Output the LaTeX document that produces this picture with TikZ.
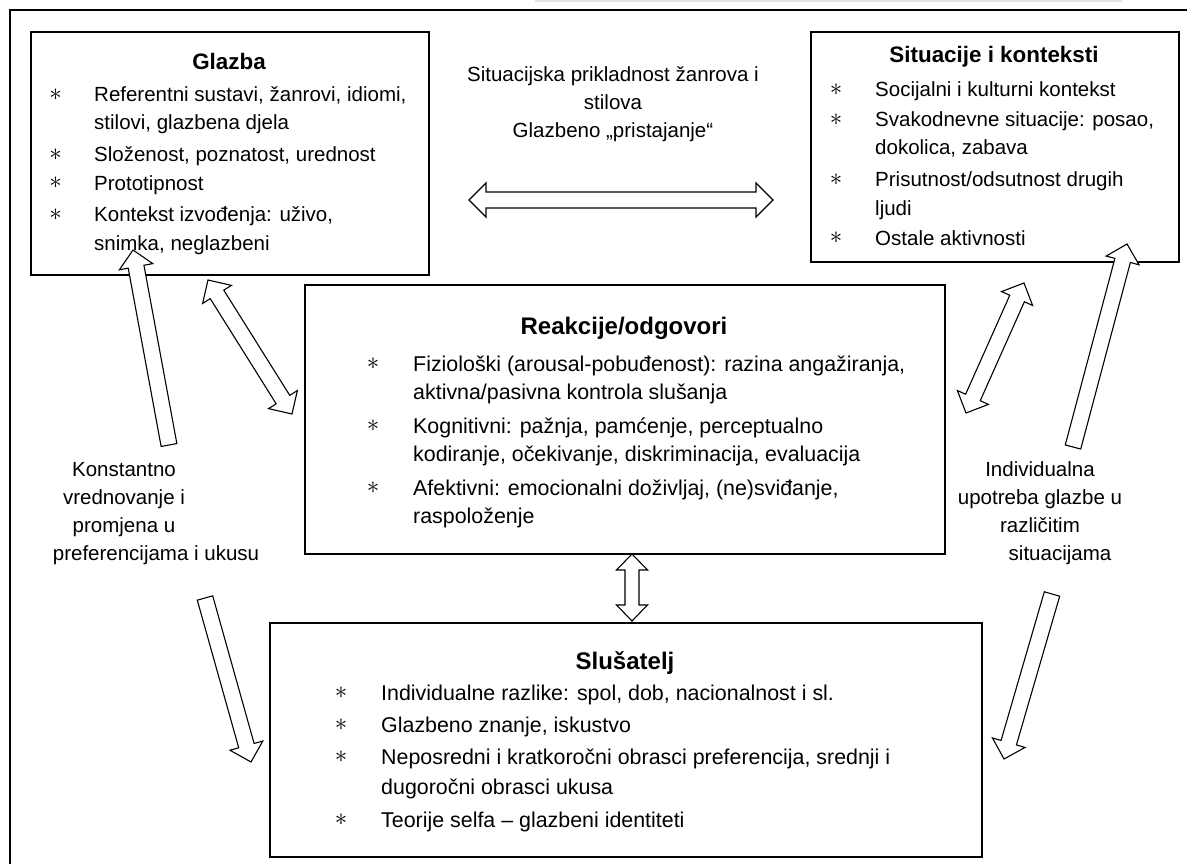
\documentclass[tikz,border=0pt]{standalone}
\usepackage{fontspec}
\setmainfont{Liberation Sans}
\usetikzlibrary{calc}
\tikzset{
  box/.style={draw, line width=2pt, anchor=north west, inner sep=0pt},
  txt/.style={anchor=base west, inner sep=0pt, font=\fontsize{20.5}{28}\selectfont},
  btxt/.style={anchor=base west, inner sep=0pt, font=\fontsize{21.4}{28}\selectfont},
  ctxt/.style={anchor=base, inner sep=0pt, font=\fontsize{20.5}{28}\selectfont},
  ttl/.style={anchor=base, inner sep=0pt, font=\bfseries\fontsize{22.4}{28}\selectfont},
  bigttl/.style={anchor=base, inner sep=0pt, font=\bfseries\fontsize{24}{30}\selectfont},
  ast/.style={anchor=center, inner sep=0pt, font=\fontsize{25}{28}\selectfont},
  arr/.style={draw, fill=white, line width=1.1pt, line join=miter},
  frame/.style={line width=2.2pt},
}
% double block arrow between #1 and #2, half shaft #3, half head #4, head length #5
\newcommand\dblarrow[5]{%
  \path ($(#1)!#5!(#2)$) coordinate (hA) ($(#2)!#5!(#1)$) coordinate (hB);
  \draw[arr] ($(hA)!#3!90:(hB)$) -- ($(hB)!#3!-90:(hA)$) -- ($(hB)!#4!-90:(hA)$) -- (#2)
    -- ($(hB)!#4!90:(hA)$) -- ($(hB)!#3!90:(hA)$) -- ($(hA)!#3!-90:(hB)$)
    -- ($(hA)!#4!-90:(hB)$) -- (#1) -- ($(hA)!#4!90:(hB)$) -- cycle;
}
% single block arrow from #1 (tail) to #2 (tip)
\newcommand\sglarrow[5]{%
  \path ($(#2)!#5!(#1)$) coordinate (hB);
  \draw[arr] ($(#1)!#3!90:(#2)$) -- ($(hB)!#3!-90:(#1)$) -- ($(hB)!#4!-90:(#1)$) -- (#2)
    -- ($(hB)!#4!90:(#1)$) -- ($(hB)!#3!90:(#1)$) -- ($(#1)!#3!-90:(#2)$) -- cycle;
}
\begin{document}
\begin{tikzpicture}[x=1pt, y=-1pt]
\useasboundingbox (0,0) rectangle (1187,864);
\fill[white] (0,0) rectangle (1187,864);
% top grey strip (edge of preceding element)
\fill[gray!22] (535,0) rectangle (1122,2.5);
% outer frame (top and left only)
\draw[frame] (1187,10) -- (10,10) -- (10,864);

% ---------- Glazba ----------
\node[box, minimum width=398pt, minimum height=243pt] (glazba) at (30,31) {};
\node[ttl] (glazbaT) at (229,70) {Glazba};
\node[ast] (gA1) at (55.5,95) {$\ast$};
\node[txt] (gL1) at (94,102) {Referentni sustavi, žanrovi, idiomi,};
\node[txt] (gL2) at (94,130) {stilovi, glazbena djela};
\node[ast] (gA2) at (55.5,155) {$\ast$};
\node[txt] (gL3) at (94,162) {Složenost, poznatost, urednost};
\node[ast] (gA3) at (55.5,183) {$\ast$};
\node[txt] (gL4) at (94,190) {Prototipnost};
\node[ast] (gA4) at (55.5,215) {$\ast$};
\node[txt] (gL5) at (94,222) {Kontekst izvođenja: uživo,};
\node[txt] (gL6) at (94,250) {snimka, neglazbeni};

% ---------- Situacije i konteksti ----------
\node[box, minimum width=368pt, minimum height=230pt] (sit) at (810,31) {};
\node[ttl] (sitT) at (994,63) {Situacije i konteksti};
\node[ast] (sA1) at (836,90) {$\ast$};
\node[txt] (sL1) at (875,97) {Socijalni i kulturni kontekst};
\node[ast] (sA2) at (836,120) {$\ast$};
\node[txt] (sL2) at (875,127) {Svakodnevne situacije: posao,};
\node[txt] (sL3) at (875,155) {dokolica, zabava};
\node[ast] (sA3) at (836,180) {$\ast$};
\node[txt] (sL4) at (875,187) {Prisutnost/odsutnost drugih};
\node[txt] (sL5) at (875,215) {ljudi};
\node[ast] (sA4) at (836,238) {$\ast$};
\node[txt] (sL6) at (875,245) {Ostale aktivnosti};

% ---------- top middle label ----------
\node[ctxt] (mT1) at (613,82) {Situacijska prikladnost žanrova i};
\node[ctxt] (mT2) at (613,110) {stilova};
\node[ctxt] (mT3) at (613,138) {Glazbeno „pristajanje“};

% ---------- Reakcije/odgovori ----------
\node[box, minimum width=640pt, minimum height=269pt] (reak) at (304,284) {};
\node[bigttl] (reakT) at (624,334) {Reakcije/odgovori};
\node[ast] (rA1) at (373,364) {$\ast$};
\node[btxt] (rL1) at (413,371) {Fiziološki (arousal-pobuđenost): razina angažiranja,};
\node[btxt] (rL2) at (413,399) {aktivna/pasivna kontrola slušanja};
\node[ast] (rA2) at (373,426) {$\ast$};
\node[btxt] (rL3) at (413,433) {Kognitivni: pažnja, pamćenje, perceptualno};
\node[btxt] (rL4) at (413,461) {kodiranje, očekivanje, diskriminacija, evaluacija};
\node[ast] (rA3) at (373,488) {$\ast$};
\node[btxt] (rL5) at (413,495) {Afektivni: emocionalni doživljaj, (ne)sviđanje,};
\node[btxt] (rL6) at (413,523) {raspoloženje};

% ---------- Slušatelj ----------
\node[box, minimum width=712pt, minimum height=234pt] (slus) at (269,622) {};
\node[bigttl] (slusT) at (625,669) {Slušatelj};
\node[ast] (lA1) at (341,693) {$\ast$};
\node[btxt] (lL1) at (381,700) {Individualne razlike: spol, dob, nacionalnost i sl.};
\node[ast] (lA2) at (341,725) {$\ast$};
\node[btxt] (lL2) at (381,732) {Glazbeno znanje, iskustvo};
\node[ast] (lA3) at (341,757) {$\ast$};
\node[btxt] (lL3) at (381,764) {Neposredni i kratkoročni obrasci preferencija, srednji i};
\node[btxt] (lL4) at (381,794) {dugoročni obrasci ukusa};
\node[ast] (lA4) at (341,820) {$\ast$};
\node[btxt] (lL5) at (381,827) {Teorije selfa – glazbeni identiteti};

% ---------- side labels ----------
\node[ctxt] (kL1) at (124,476) {Konstantno};
\node[ctxt] (kL2) at (124,504) {vrednovanje i};
\node[ctxt] (kL3) at (124,532) {promjena u};
\node[ctxt] (kL4) at (156,560) {preferencijama i ukusu};
\node[ctxt] (iL1) at (1040,476) {Individualna};
\node[ctxt] (iL2) at (1040,504) {upotreba glazbe u};
\node[ctxt] (iL3) at (1040,532) {različitim};
\node[ctxt] (iL4) at (1060,560) {situacijama};

% ---------- arrow end points ----------
\coordinate (hzL) at (469,200);
\coordinate (hzR) at (773,200);
\coordinate (luT) at (169,445);
\coordinate (luH) at (133,250);
\coordinate (ldA) at (208,280);
\coordinate (ldB) at (292,414);
\coordinate (rdA) at (966,413);
\coordinate (rdB) at (1024,283);
\coordinate (ruT) at (1073,447);
\coordinate (ruH) at (1127,244);
\coordinate (vA) at (632,554);
\coordinate (vB) at (632,621);
\coordinate (ldnT) at (205,598);
\coordinate (ldnH) at (251,762);
\coordinate (rdnT) at (1052,594);
\coordinate (rdnH) at (1004,759);

% ---------- arrows ----------
\dblarrow{hzL}{hzR}{8pt}{17pt}{17pt}
\sglarrow{luT}{luH}{8pt}{17pt}{17pt}
\dblarrow{ldA}{ldB}{8pt}{17pt}{17pt}
\dblarrow{rdA}{rdB}{8pt}{17pt}{17pt}
\sglarrow{ruT}{ruH}{8pt}{17pt}{17pt}
\dblarrow{vA}{vB}{7pt}{15.5pt}{16pt}
\sglarrow{ldnT}{ldnH}{8pt}{17pt}{17pt}
\sglarrow{rdnT}{rdnH}{8pt}{17pt}{17pt}
\end{tikzpicture}
\end{document}
